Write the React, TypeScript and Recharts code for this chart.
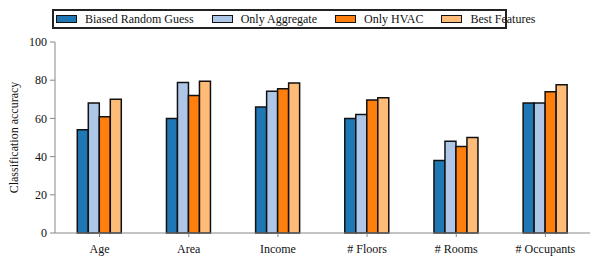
import { Bar, BarChart, XAxis, YAxis } from 'recharts';

const categories = ['Age', 'Area', 'Income', '# Floors', '# Rooms', '# Occupants'];
const biasedRandomGuess = [54, 60, 66, 60, 38, 68];
const onlyAggregate = [68, 78.8, 74.2, 62, 48, 68];
const onlyHvac = [60.8, 72, 75.5, 69.6, 45.3, 74];
const bestFeatures = [70, 79.5, 78.5, 70.8, 50, 77.6];
const yTicks = [0, 20, 40, 60, 80, 100];

const SERIES = [
  { key: 'brg', label: 'Biased Random Guess', color: '#1f77b4' },
  { key: 'agg', label: 'Only Aggregate', color: '#aec7e8' },
  { key: 'hvac', label: 'Only HVAC', color: '#ff7f0e' },
  { key: 'best', label: 'Best Features', color: '#ffbb78' },
] as const;

const chartData = categories.map((name, i) => ({
  name,
  brg: biasedRandomGuess[i],
  agg: onlyAggregate[i],
  hvac: onlyHvac[i],
  best: bestFeatures[i],
}));

const FONT = 'Liberation Serif, serif';
const AXIS_COLOR = '#888';

export default function App() {
  return (
    <div style={{ position: 'relative', margin: -8, width: 600, height: 265, background: '#fff' }}>
      <BarChart
        width={600}
        height={265}
        data={chartData}
        margin={{ top: 42, right: 10, left: 0, bottom: 7 }}
        barGap={0}
        barCategoryGap="25%"
      >
        <XAxis
          dataKey="name"
          height={25}
          stroke={AXIS_COLOR}
          tickSize={4}
          tickMargin={7}
          tick={{ fontSize: 12, fill: '#111', fontFamily: FONT }}
          interval={0}
        />
        <YAxis
          width={55}
          domain={[0, 100]}
          ticks={yTicks}
          stroke={AXIS_COLOR}
          tickSize={5}
          tickMargin={3}
          tick={{ fontSize: 12, fill: '#111', fontFamily: FONT }}
          label={{
            value: 'Classification accuracy',
            angle: -90,
            position: 'insideLeft',
            offset: 14,
            style: { textAnchor: 'middle', fontSize: 12, fill: '#111', fontFamily: FONT },
          }}
        />
        {SERIES.map((s) => (
          <Bar
            key={s.key}
            dataKey={s.key}
            fill={s.color}
            stroke="#111"
            strokeWidth={1.5}
            isAnimationActive={false}
          />
        ))}
      </BarChart>
      <div
        style={{
          position: 'absolute',
          left: 52,
          top: 9,
          width: 455,
          height: 20,
          boxSizing: 'border-box',
          border: '2px solid #222',
          display: 'flex',
          alignItems: 'center',
          paddingLeft: 2,
          fontFamily: FONT,
          fontSize: 12,
          color: '#111',
          whiteSpace: 'nowrap',
        }}
      >
        {SERIES.map((s, i) => (
          <div key={s.key} style={{ display: 'flex', alignItems: 'center', marginLeft: i === 0 ? 0 : 18 }}>
            <span
              style={{
                display: 'inline-block',
                width: 19,
                height: 6,
                background: s.color,
                border: '1.2px solid #111',
                marginRight: 8,
              }}
            />
            <span>{s.label}</span>
          </div>
        ))}
      </div>
    </div>
  );
}
